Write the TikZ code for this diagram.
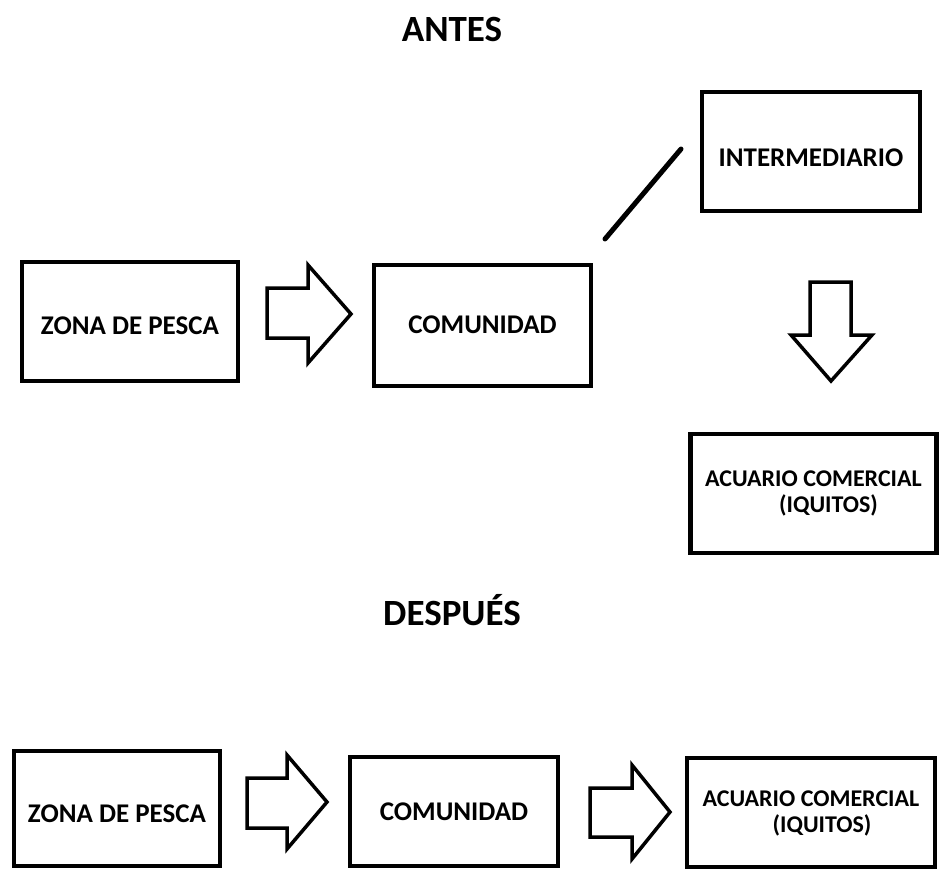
\documentclass[tikz,border=0pt]{standalone}
\usepackage{fontspec}
\setmainfont{Carlito}
\newcommand{\movetext}[2]{\raisebox{#1}[\height][\depth]{#2}}
\begin{document}
\begin{tikzpicture}[x=1pt,y=-1pt,
  box/.style={draw=black, line width=4.5pt, rectangle, inner sep=0pt, align=center,
    font=\bfseries\fontsize{27}{30}\selectfont},
  acbox/.style={box, align=left, font=\bfseries\fontsize{24}{26}\selectfont},
  title/.style={font=\bfseries\fontsize{37}{40}\selectfont, inner sep=0pt},
  blockarrow/.style={draw=black, line width=3.5pt, fill=white, line join=miter},
  link/.style={draw=black, line width=5pt, line cap=round}]
\useasboundingbox (0,0) rectangle (941,871);
\fill[white] (0,0) rectangle (941,871);

% ANTES
\node[title] (antes) at (452,29) {ANTES};
\node[box, minimum width=216, minimum height=119] (zona1) at (130,321.5) {\movetext{-4pt}{ZONA DE PESCA}};
\node[box, minimum width=217, minimum height=121] (com1) at (482.5,325.5) {\movetext{1pt}{COMUNIDAD}};
\node[box, minimum width=218, minimum height=119] (inter) at (811,151.5) {\movetext{-6pt}{INTERMEDIARIO}};
\node[acbox, minimum width=246, minimum height=119] (acu1) at (813.5,493.5) {ACUARIO COMERCIAL\\\hspace*{74pt}(IQUITOS)};

\coordinate (l1) at (605,239);
\coordinate (l2) at (681,149);
\draw[link] (l1) -- (l2);

\draw[blockarrow] (267,288) -- (308,288) -- (308,265) -- (351,314) -- (308,363) -- (308,338) -- (267,338) -- cycle;
\draw[blockarrow] (810,282) -- (851,282) -- (851,335) -- (872,335) -- (831,381) -- (791,335) -- (810,335) -- cycle;

% DESPUES
\node[title] (despues) at (452,610) {DESPUÉS};
\node[box, minimum width=206, minimum height=115] (zona2) at (117,808.5) {\movetext{-5pt}{ZONA DE PESCA}};
\node[box, minimum width=208, minimum height=109] (com2) at (454,811.5) {COMUNIDAD};
\node[acbox, minimum width=248, minimum height=109] (acu2) at (811,812.5) {\movetext{-2pt}{\begin{tabular}{@{}l@{}}ACUARIO COMERCIAL\\\hspace*{70pt}(IQUITOS)\end{tabular}}};

\draw[blockarrow] (247,778) -- (287,778) -- (287,755) -- (327,802) -- (287,849) -- (287,828) -- (247,828) -- cycle;
\draw[blockarrow] (590,788) -- (632,788) -- (632,765) -- (670,812) -- (632,859) -- (632,837) -- (590,837) -- cycle;
\end{tikzpicture}
\end{document}
